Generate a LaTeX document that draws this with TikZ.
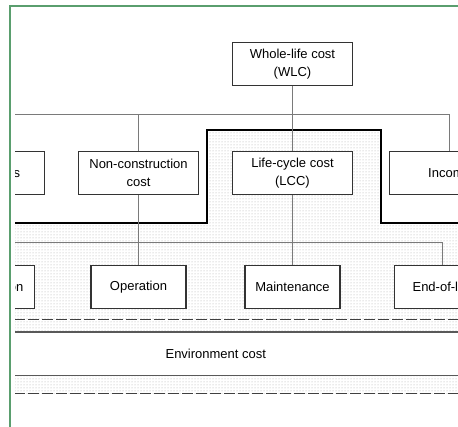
\documentclass[tikz,border=0pt]{standalone}
\usepackage{fontspec}
\setmainfont{Liberation Sans}
\usetikzlibrary{patterns}
\definecolor{framegreen}{HTML}{5A9E6E}
\definecolor{boxline}{HTML}{333333}
\definecolor{wire}{HTML}{7A7A7A}
\definecolor{dotgray}{HTML}{A8A8A8}
\begin{document}
\begin{tikzpicture}[x=1pt,y=-1pt,
  costbox/.style={draw=boxline,line width=1.1pt,fill=white,minimum height=42.6pt,
    inner sep=0pt,align=center,font=\fontsize{13}{17.5}\selectfont},
  wide/.style={costbox,minimum width=119.3pt},
  narrow/.style={costbox,minimum width=95pt},
  wire/.style={draw=wire,line width=0.9pt},
  dotted area/.style={pattern=dots,pattern color=dotgray},
  heavy/.style={draw=black,line width=2pt},
  band/.style={draw=black!75,line width=1.4pt,dash pattern=on 11pt off 3pt},
  rule/.style={draw=black!65,line width=1.1pt}]
\useasboundingbox (0,0) rectangle (458,427);
% outer frame
\draw[framegreen,line width=2pt] (10,440) -- (10,6) -- (470,6);
\begin{scope}
  \clip (15,0) rectangle (458,427);
  % shaded life-cycle area and band under the environment cost
  \fill[dotted area] (0,223) -- (206.7,223) -- (206.7,130) -- (380.7,130)
    -- (380.7,223) -- (470,223) -- (470,332) -- (0,332) -- cycle;
  \fill[dotted area] (0,375.7) rectangle (470,393.3);
  \draw[heavy] (0,223) -- (206.7,223) -- (206.7,130) -- (380.7,130)
    -- (380.7,223) -- (470,223);
  % boxes
  \node[wide] (wlc) at (292.5,63.9) {Whole-life cost\\(WLC)};
  \node[wide] (ext) at (-15.3,173) {Externalities};
  \node[wide] (ncc) at (138.5,173) {Non-construction\\cost};
  \node[wide] (lcc) at (292.5,173) {Life-cycle cost\\(LCC)};
  \node[wide] (inc) at (449.5,173) {Income};
  \node[narrow] (con) at (-13.2,286.9) {Construction};
  \node[narrow] (ope) at (138.5,286.9) {Operation};
  \node[narrow] (mai) at (292.5,286.9) {Maintenance};
  \node[narrow] (eol) at (442.2,286.9) {End-of-life};
  % first level connectors
  \coordinate (bus1) at (wlc.south |- 0,114.3);
  \draw[wire] (wlc.south) -- (lcc.north);
  \draw[wire] (ext.north) |- (bus1) -| (inc.north);
  \draw[wire] (ncc.north) -- (ncc.north |- bus1);
  % second level connectors
  \coordinate (bus2) at (lcc.south |- 0,242.3);
  \draw[wire] (con.north) |- (bus2) -| (eol.north);
  \draw[wire] (ncc.south) -- (ope.north);
  \draw[wire] (lcc.south) -- (mai.north);
  % environment cost band
  \draw[band] (0,319.3) -- (470,319.3);
  \draw[rule] (0,332) -- (470,332);
  \node[font=\fontsize{13}{17.5}\selectfont] (env) at (215.8,354) {Environment cost};
  \draw[rule] (0,375.7) -- (470,375.7);
  \draw[band] (0,393.3) -- (470,393.3);
\end{scope}
\end{tikzpicture}
\end{document}
